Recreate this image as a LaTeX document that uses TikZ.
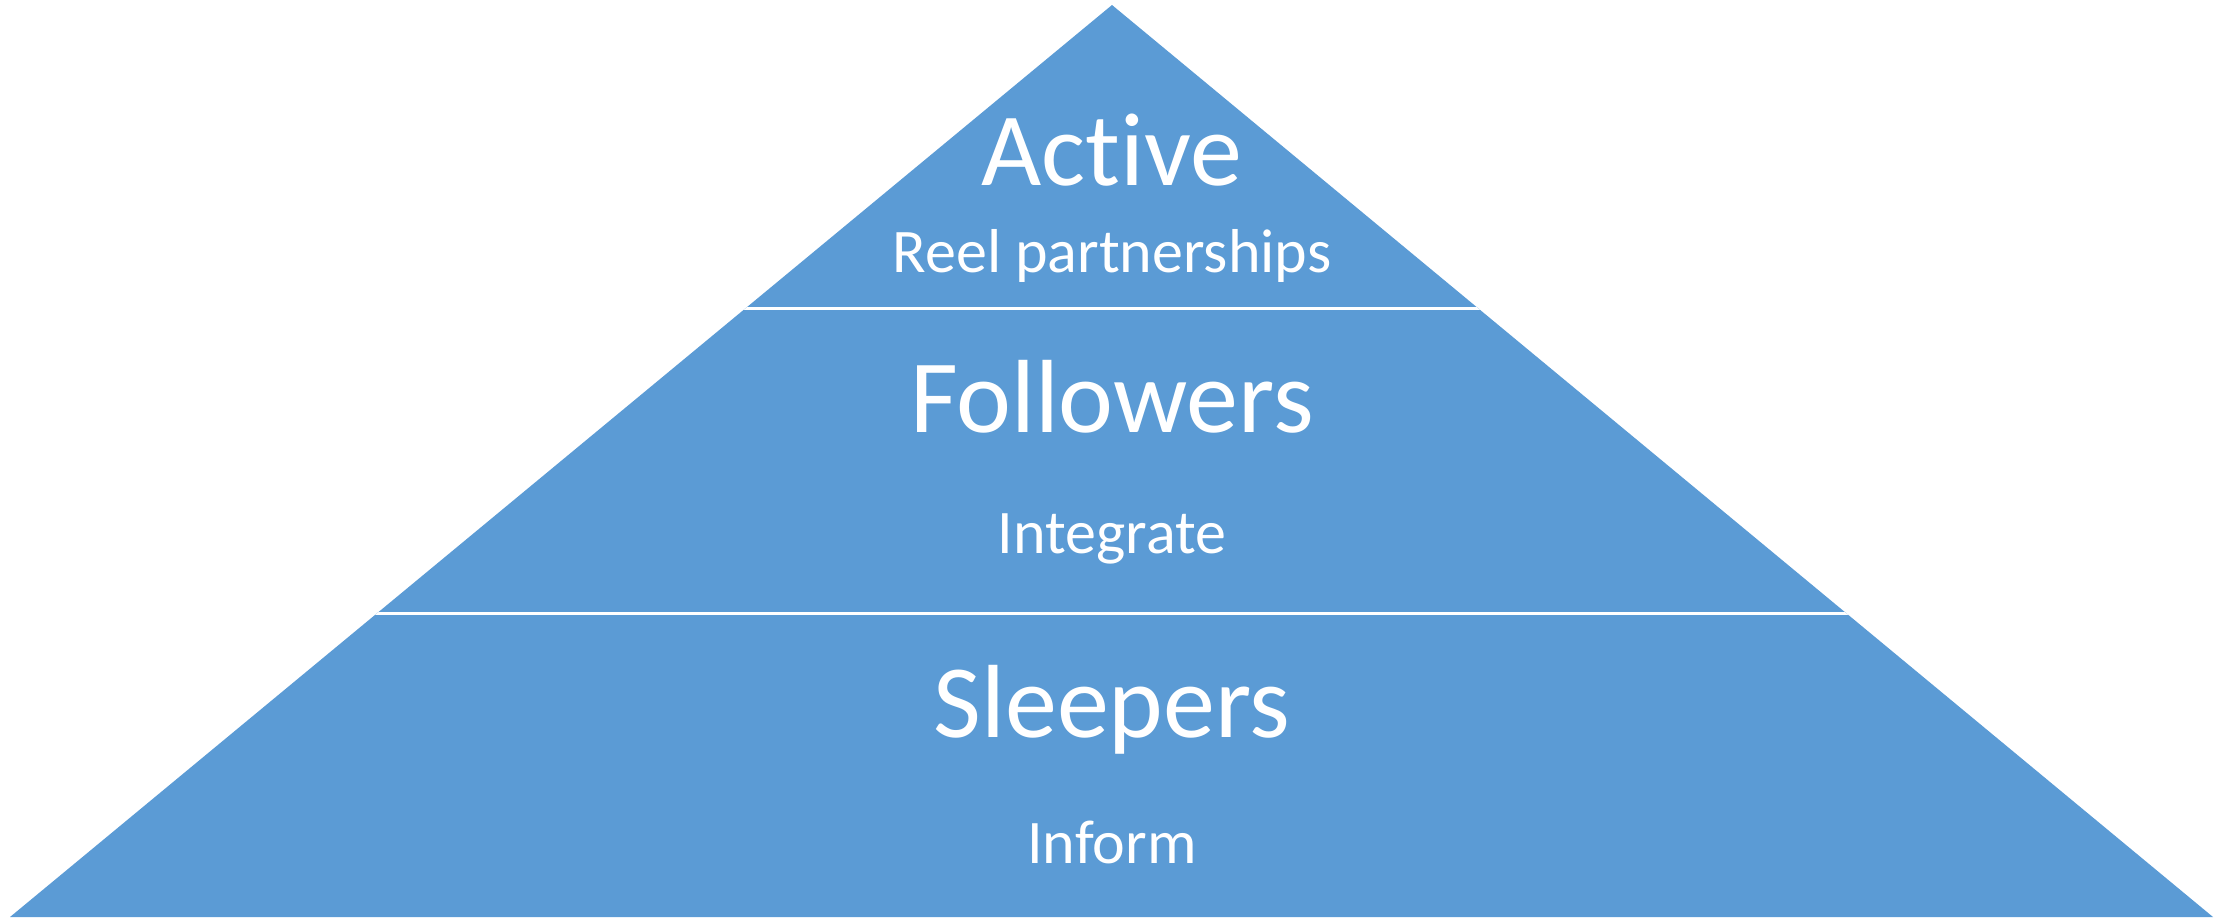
\documentclass[tikz,border=0pt]{standalone}
\usepackage{fontspec}
\setmainfont{Carlito}[Ligatures={NoCommon,NoRare,NoContextual}]
\definecolor{pyr}{HTML}{5B9BD5}
\tikzset{
  big/.style={text=white, anchor=base, inner sep=0pt, font=\fontsize{52}{60}\selectfont},
  small/.style={text=white, anchor=base, inner sep=0pt, font=\fontsize{31}{36}\selectfont},
  sep/.style={draw=white, line width=1.5pt}
}
\begin{document}
\begin{tikzpicture}[x=0.5pt,y=-0.5pt]
\useasboundingbox (0,0) rectangle (2231,917);
\coordinate (apex) at (1112,5);
\coordinate (bl) at (10,917);
\coordinate (br) at (2213,917);
\fill[pyr] (apex) -- (br) -- (bl) -- cycle;
\coordinate (s1l) at (700,308);
\coordinate (s1r) at (1520,308);
\coordinate (s2l) at (340,613);
\coordinate (s2r) at (1890,613);
\begin{scope}
\clip (apex) -- (br) -- (bl) -- cycle;
\draw[sep] (s1l) -- (s1r);
\draw[sep] (s2l) -- (s2r);
\end{scope}
\node[big] (active) at (1112,185) {Active};
\node[small] (reel) at (1112,272) {Reel partnerships};
\node[big] (followers) at (1112,432) {Followers};
\node[small] (integrate) at (1112,553) {Integrate};
\node[big] (sleepers) at (1112,737) {Sleepers};
\node[small] (inform) at (1112,863) {Inform};
\end{tikzpicture}
\end{document}
